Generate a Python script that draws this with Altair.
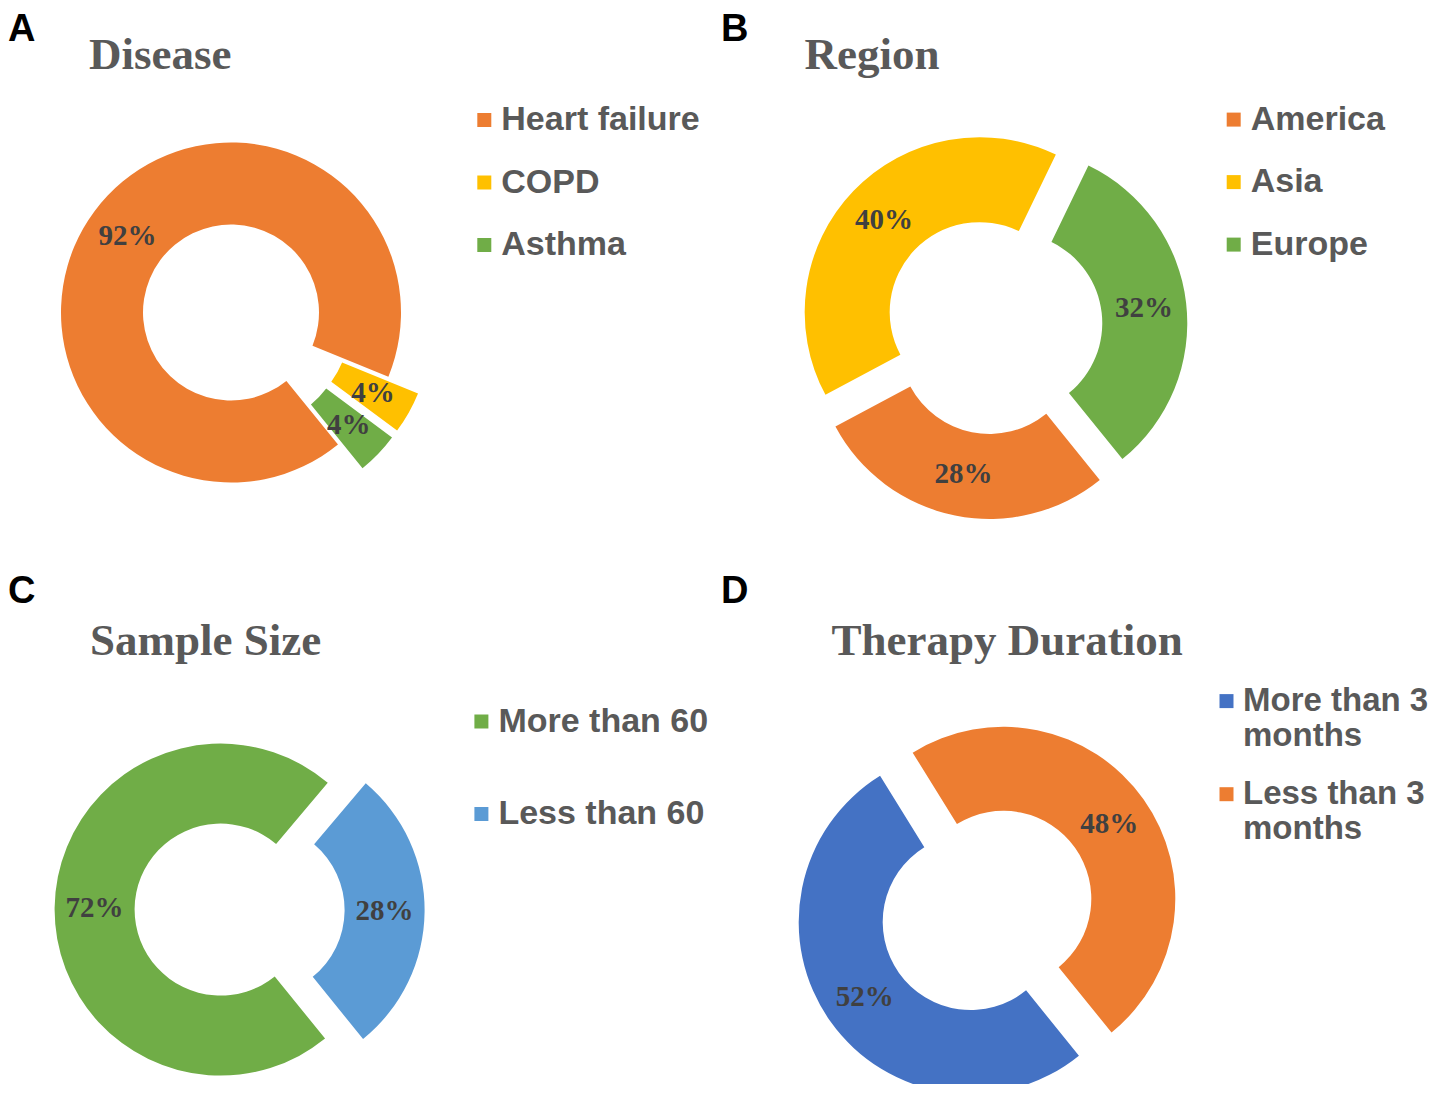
import math
import altair as alt
import pandas as pd

# ---------------- data ----------------
disease_cats = ["Heart failure", "COPD", "Asthma"]
disease_vals = [92, 4, 4]
region_cats = ["America", "Asia", "Europe"]
region_vals = [28, 40, 32]
sample_cats = ["More than 60", "Less than 60"]
sample_vals = [72, 28]
therapy_cats = ["More than 3 months", "Less than 3 months"]
therapy_vals = [52, 48]

# ---------------- style ----------------
ORANGE = "#ED7D31"
YELLOW = "#FFC000"
GREEN = "#70AD47"
LBLUE = "#5B9BD5"
DBLUE = "#4472C4"
TXT = "#595959"
LBL = "#404040"
THETA0 = math.radians(141)
W = 705
H1, H2 = 475, 408

RES = dict(color="independent", theta="independent", x="independent", y="independent")


def panel(cats, vals, colors, explode, R, r, cx, cy, H, title, title_dx,
          letter, letter_offset, leg_x, leg_y, row_pad, leg_fs=34, multiline=False):
    df = pd.DataFrame({"cat": cats, "value": vals,
                       "order": list(range(len(cats))), "explode": explode})
    total = sum(vals)
    rmid = (R + r) / 2.0
    base = (
        alt.Chart(df)
        .transform_window(cum="sum(value)", sort=[alt.SortField("order")], frame=[None, 0])
        .transform_calculate(start="datum.cum - datum.value",
                             mid="datum.cum - datum.value / 2")
        .transform_calculate(ang=f"{THETA0} + 2 * PI * datum.mid / {total}")
        .transform_calculate(ex="datum.explode * sin(datum.ang)",
                             ey="datum.explode * cos(datum.ang)")
        .transform_calculate(tx=f"datum.ex + {rmid} * sin(datum.ang)",
                             ty=f"datum.ey + {rmid} * cos(datum.ang)",
                             pct=f"format(datum.value / {total}, '.0%')")
    )
    xs = alt.Scale(domain=[-cx, W - cx], nice=False, zero=False)
    ys = alt.Scale(domain=[-(H - cy), cy], nice=False, zero=False)
    ts = alt.Scale(domain=[0, total], range=[THETA0, THETA0 + 2 * math.pi])

    leg_kw = dict(orient="none", legendX=leg_x, legendY=leg_y, title=None,
                  symbolType="square", symbolSize=196, symbolStrokeWidth=0,
                  labelFont="Liberation Sans", labelFontSize=leg_fs, labelFontWeight="bold",
                  labelColor=TXT, labelOffset=0, labelLimit=600, rowPadding=row_pad,
                  padding=0)
    if multiline:
        leg_kw["labelExpr"] = "split(replace(datum.label, ' months', '|months'), '|')"
    legend = alt.Legend(**leg_kw)

    arcs = base.mark_arc(innerRadius=r, outerRadius=R, strokeWidth=0, clip=True).encode(
        theta=alt.Theta("start:Q", scale=ts),
        theta2=alt.Theta2("cum"),
        x=alt.X("ex:Q", scale=xs, axis=None),
        y=alt.Y("ey:Q", scale=ys, axis=None),
        color=alt.Color("cat:N", scale=alt.Scale(domain=cats, range=colors), legend=legend),
    )
    texts = base.mark_text(font="Liberation Serif", fontWeight="bold", fontSize=29,
                           color=LBL).encode(
        x=alt.X("tx:Q", scale=xs, axis=None),
        y=alt.Y("ty:Q", scale=ys, axis=None),
        text="pct:N",
    )
    inner = alt.layer(arcs, texts).properties(
        width=W, height=H,
        title=alt.Title(title, anchor="start", dx=title_dx, font="Liberation Serif",
                        fontSize=45, fontWeight="bold", color=TXT, offset=12.5),
    )
    cell = alt.vconcat(inner, spacing=0,
                       title=alt.Title(letter, anchor="start", font="Liberation Sans",
                                       fontSize=38, fontWeight="bold", color="black",
                                       offset=letter_offset))
    return cell.resolve_scale(**RES).resolve_legend(color="independent")


pA = panel(disease_cats, disease_vals, [ORANGE, YELLOW, GREEN], [0, 34, 34],
           170, 88, 223, 222.5, H1, "Disease", 81, "A", -16.5, 459.3, 13, 28.5)
pB = panel(region_cats, region_vals, [ORANGE, YELLOW, GREEN], [19, 19, 19],
           175, 90, 272.4, 235.3, H1, "Region", 83.5, "B", -16.5, 495.7, 12.6, 28.5)
pC = panel(sample_cats, sample_vals, [GREEN, LBLUE], [19, 19],
           166, 86, 231.6, 233.8, H2, "Sample Size", 82, "C", 7.5, 456.4, 28.5, 58.5)
pD = panel(therapy_cats, therapy_vals, [DBLUE, ORANGE], [20, 20],
           172, 88, 266, 234.4, H2, "Therapy Duration", 110.5, "D", 7.5, 489, 8.6, 24.1,
           leg_fs=33, multiline=True)

row1 = alt.hconcat(pA, pB, spacing=8).resolve_scale(**RES).resolve_legend(color="independent")
row2 = alt.hconcat(pC, pD, spacing=8).resolve_scale(**RES).resolve_legend(color="independent")

chart = (
    alt.vconcat(row1, row2, spacing=8)
    .resolve_scale(**RES)
    .resolve_legend(color="independent")
    .properties(padding={"top": 3, "left": 0, "right": 0, "bottom": 0}, background="white")
    .configure_view(stroke=None)
)

chart.save("out.html", embed_options={"renderer": "svg", "actions": False})
